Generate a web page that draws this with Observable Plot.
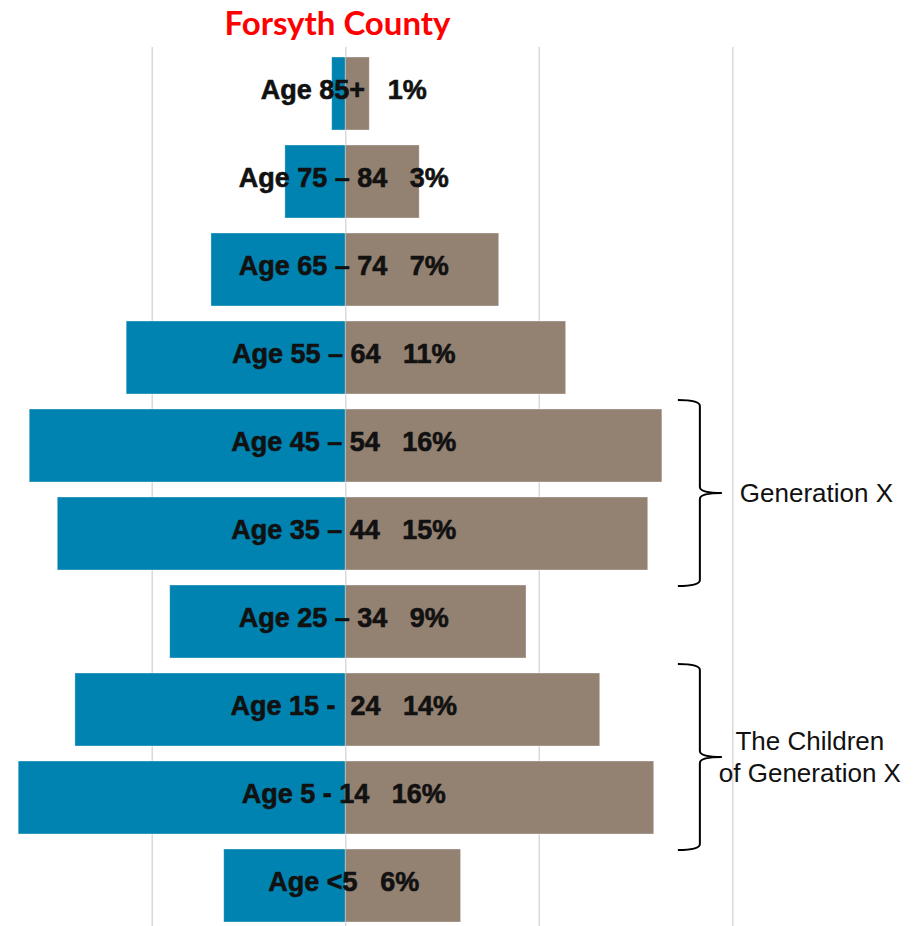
<!DOCTYPE html>
<html><head><meta charset="utf-8">
<script src="https://cdn.jsdelivr.net/npm/d3@7"></script>
<script src="https://cdn.jsdelivr.net/npm/@observablehq/plot@0.6"></script>
<style>
body{margin:0;background:#fff;}
#title{width:675px;height:40px;text-align:center;font-family:Lato,"Open Sans",sans-serif;font-weight:700;font-size:33px;color:#ff0000;line-height:40px;}
#title span{position:relative;top:2px}
#chart svg{display:block}
</style></head><body>
<div id="title"><span>Forsyth County</span></div>
<div id="chart"></div>
<script>
const ageGroups = ["Age 85+","Age 75 – 84","Age 65 – 74","Age 55 – 64","Age 45 – 54","Age 35 – 44","Age 25 – 34","Age 15 - \u00a024","Age 5 - 14","Age <5"];
const leftValues = [0.70,3.12,6.94,11.32,16.33,14.88,9.07,13.97,16.90,6.28];
const rightValues = [1.24,3.82,7.93,11.39,16.36,15.63,9.34,13.15,15.94,5.96];
const pctLabels = ["1%","3%","7%","11%","16%","15%","9%","14%","16%","6%"];
const gridTicks = [-10,0,10,20];
const bracketLabels = [["Generation X"],["The Children","of Generation X"]];
const bracketFrom = ["Age 45 – 54","Age 15 - \u00a024"];
const bracketTo = ["Age 35 – 44","Age 5 - 14"];

const rows = ageGroups.map((age,i)=>({age, left:leftValues[i], right:rightValues[i], pct:pctLabels[i]}));

const chart = Plot.plot({
  width:921, height:886, marginTop:7, marginBottom:0, marginLeft:0, marginRight:0,
  x:{domain:[-17.84,29.75], axis:null},
  y:{domain:ageGroups, range:[15,883.3], paddingInner:0.1736, paddingOuter:0, axis:null},
  marks:[
    Plot.ruleX(gridTicks,{stroke:"#d9d9d9", strokeWidth:1.5}),
    Plot.barX(rows,{y:"age", x1:()=>0, x2:d=>-d.left, fill:"#0083b0", stroke:"#ffffff", strokeOpacity:0.45, strokeWidth:0.75}),
    Plot.barX(rows,{y:"age", x1:()=>0, x2:"right", fill:"#938172", stroke:"#ffffff", strokeOpacity:0.45, strokeWidth:0.75}),
    Plot.text(rows,{y:"age", x:()=>0, dx:-2, dy:-4, text:d=>d.age+"\u00a0\u00a0\u00a0"+d.pct, fontSize:27, fontWeight:700, fontFamily:"Liberation Sans, Arial, sans-serif", fill:"#111", stroke:"#111", strokeWidth:0.6})
  ]
});
document.getElementById("chart").appendChild(chart);

// bracket annotations, positioned through Plot's scales
const xs = chart.scale("x"), ys = chart.scale("y");
const bw = ys.bandwidth;
const xmax = xs.apply(d3.max(rightValues));
const xa = xmax+16, xv = xmax+38, xt = xmax+60, r = 6;
const svg = d3.select(chart);
bracketLabels.forEach((lines,i)=>{
  const top = ys.apply(bracketFrom[i]) - 9;
  const bottom = ys.apply(bracketTo[i]) + bw + 16;
  const mid = (top+bottom)/2;
  const p = `M${xa},${top} Q${xv},${top} ${xv},${top+r} L${xv},${mid-r} Q${xv},${mid} ${xt},${mid} Q${xv},${mid} ${xv},${mid+r} L${xv},${bottom-r} Q${xv},${bottom} ${xa},${bottom}`;
  svg.append("path").attr("d",p).attr("fill","none").attr("stroke","#000").attr("stroke-width",2);
  const single = lines.length===1;
  const t = svg.append("text")
    .attr("font-family","Liberation Sans, Arial, sans-serif").attr("font-size",26).attr("fill","#111")
    .attr("text-anchor", single ? "start" : "middle");
  const tx = single ? xt+18 : xt+88;
  const lh = 32.4;
  lines.forEach((ln,j)=>{
    t.append("tspan").attr("x",tx).attr("y", mid + (j-(lines.length-1)/2)*lh).attr("dy","0.35em").text(ln);
  });
});
</script>
</body></html>
